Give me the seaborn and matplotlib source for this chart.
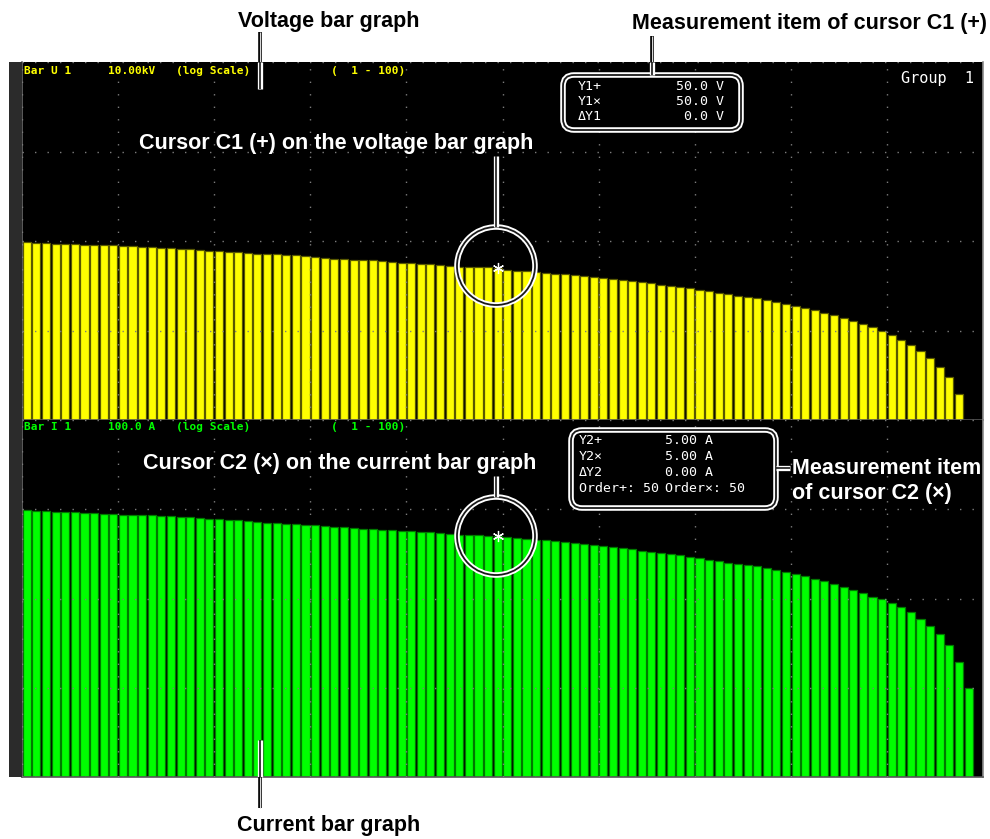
import numpy as np
import matplotlib
matplotlib.use("Agg")
import matplotlib.pyplot as plt
import seaborn as sns
from matplotlib.patches import Circle, FancyBboxPatch, Rectangle
from matplotlib.ticker import NullLocator

# ---------------- data (harmonic orders 1..100) ----------------
orders = list(range(1, 101))

voltage_v = [97.5, 95.0, 95.0, 93.3, 93.3, 93.3, 91.0, 91.0, 89.5, 89.5,
             87.3, 87.3, 85.7, 85.7, 83.5, 83.5, 81.4, 81.4, 79.3, 77.3,
             77.3, 75.3, 75.3, 73.4, 72.1, 71.0, 71.0, 69.2, 69.2, 67.4,
             66.2, 65.0, 63.4, 63.4, 61.8, 60.8, 60.8, 59.3, 58.2, 56.8,
             56.8, 55.7, 54.9, 53.9, 52.6, 51.6, 51.6, 51.0, 50.6, 50.0,
             47.8, 46.5, 46.5, 45.4, 44.3, 43.1, 42.5, 41.4, 40.4, 39.3,
             38.3, 37.3, 36.4, 35.5, 34.6, 33.7, 32.2, 31.4, 30.6, 29.9,
             28.4, 27.6, 26.4, 25.6, 24.5, 23.9, 22.9, 21.7, 20.7, 19.6,
             18.6, 17.8, 16.8, 15.7, 14.9, 13.8, 12.9, 11.9, 10.9, 9.8,
             8.8, 7.8, 6.9, 5.9, 4.9, 3.9, 3.0, 1.95, 0.98, 0.6]

current_a = [9.75, 9.50, 9.50, 9.33, 9.33, 9.33, 9.10, 9.10, 8.95, 8.95,
             8.73, 8.73, 8.57, 8.57, 8.35, 8.35, 8.14, 8.14, 7.93, 7.73,
             7.73, 7.53, 7.53, 7.34, 7.21, 7.10, 7.10, 6.92, 6.92, 6.74,
             6.62, 6.50, 6.34, 6.34, 6.18, 6.08, 6.08, 5.93, 5.82, 5.68,
             5.68, 5.57, 5.49, 5.39, 5.26, 5.16, 5.16, 5.10, 5.06, 5.00,
             4.85, 4.73, 4.61, 4.49, 4.49, 4.37, 4.26, 4.15, 4.05, 3.94,
             3.87, 3.77, 3.68, 3.59, 3.41, 3.32, 3.23, 3.15, 3.07, 2.94,
             2.86, 2.72, 2.65, 2.52, 2.45, 2.36, 2.29, 2.18, 2.07, 1.98,
             1.88, 1.79, 1.67, 1.57, 1.45, 1.35, 1.24, 1.15, 1.05, 0.975,
             0.89, 0.796, 0.70, 0.585, 0.492, 0.397, 0.301, 0.196, 0.099, 0.005]

cursor_order = 50
v_range = (1.0, 1.0e4)      # 10.00 kV full scale, 4 decades
i_range = (0.01, 100.0)     # 100.0 A full scale, 4 decades

v_header = ["Bar U 1", "10.00kV", "(log Scale)", "(  1 - 100)"]
i_header = ["Bar I 1", "100.0 A", "(log Scale)", "(  1 - 100)"]
box1_labels = ["Y1+", "Y1\u00d7", "\u0394Y1"]
box1_values = ["50.0 V", "50.0 V", "0.0 V"]
box2_labels = ["Y2+", "Y2\u00d7", "\u0394Y2"]
box2_values = ["5.00 A", "5.00 A", "0.00 A"]

# ---------------- figure ----------------
sns.set_theme(style="dark")
plt.rcParams['font.family'] = ['DejaVu Sans']

W, H = 990, 839
fig = plt.figure(figsize=(9.9, 8.39), dpi=100, facecolor='white')


def frame(x0, y0, x1, y1):
    return [x0 / W, 1 - y1 / H, (x1 - x0) / W, (y1 - y0) / H]


ax_v = fig.add_axes(frame(22, 62, 983, 420))
ax_i = fig.add_axes(frame(22, 420, 983, 777))

MONO = ['DejaVu Sans Mono', 'DejaVu Sans']


def bar_panel(ax, vals, color, edge, yr):
    sns.barplot(x=orders, y=vals, ax=ax, color=color, saturation=1,
                width=0.84, edgecolor=edge, linewidth=0.9, errorbar=None)
    ax.set_yscale('log')
    ax.set_ylim(*yr)
    ax.set_xlim(-0.5, len(orders) - 0.5)
    ax.set_facecolor('black')
    ax.set_xticks(np.arange(-0.5, len(orders), 10))
    lo, hi = np.log10(yr[0]), np.log10(yr[1])
    ax.set_yticks(10.0 ** np.arange(lo, hi + 0.5, 1))
    ax.yaxis.set_minor_locator(NullLocator())
    ax.xaxis.set_minor_locator(NullLocator())
    ax.tick_params(length=0, labelbottom=False, labelleft=False)
    ax.set_xlabel('')
    ax.set_ylabel('')
    ax.grid(True, color='#7c7c7c', linestyle=(0, (1, 8)), linewidth=1.0)
    ax.set_axisbelow(False)
    ax.spines['top'].set_visible(False)
    ax.spines['left'].set_color('#6a6a6a')
    ax.spines['right'].set_color('#8a8a8a')
    ax.spines['bottom'].set_color('#555555')
    for s in ['left', 'right', 'bottom']:
        ax.spines[s].set_linewidth(1.2)
    # cursor marker
    k = orders.index(cursor_order)
    ax.plot([k], [vals[k]], marker=(6, 2, 0), color='white', ms=8, mew=0.9,
            linestyle='none', zorder=10)


bar_panel(ax_v, voltage_v, '#ffff00', '#5a5a00', v_range)
bar_panel(ax_i, current_a, '#00ff00', '#007a00', i_range)

# ---------------- overlay in pixel coordinates ----------------
ov = fig.add_axes([0, 0, 1, 1])
ov.set_xlim(0, W)
ov.set_ylim(H, 0)
ov.axis('off')
ov.patch.set_alpha(0)

ov.add_patch(Rectangle((9, 62), 13, 715, color='#2b2b2b', lw=0))

# instrument header texts
hx = [24, 108, 176, 331]
for x, t in zip(hx, v_header):
    ov.text(x, 71, t, color='#ffff00', family=MONO, fontsize=8,
            va='center', ha='left', fontweight='bold')
for x, t in zip(hx, i_header):
    ov.text(x, 427, t, color='#00ff00', family=MONO, fontsize=8,
            va='center', ha='left', fontweight='bold')
ov.text(901, 78, "Group  1", color='white', family=MONO, fontsize=11,
        va='center', ha='left')


def double_box(x, y, w, h):
    ov.add_patch(FancyBboxPatch((x, y), w, h,
                                boxstyle='round,pad=0,rounding_size=11',
                                fc='black', ec='white', lw=4, zorder=5))
    ov.add_patch(FancyBboxPatch((x, y), w, h,
                                boxstyle='round,pad=0,rounding_size=11',
                                fc='none', ec='#1a1a1a', lw=1.3, zorder=6))


def double_circle(cx, cy, r):
    ov.add_patch(Circle((cx, cy), r, fill=False, ec='white', lw=4, zorder=7))
    ov.add_patch(Circle((cx, cy), r, fill=False, ec='#1a1a1a', lw=1.3, zorder=8))


def line_on_white(xs, ys):
    ov.plot(xs, ys, color='black', lw=2.6, solid_capstyle='butt', zorder=9)
    ov.plot(xs, ys, color='#d8d8d8', lw=0.8, solid_capstyle='butt', zorder=9)


def line_on_black(xs, ys):
    ov.plot(xs, ys, color='white', lw=3.8, solid_capstyle='butt', zorder=9)
    ov.plot(xs, ys, color='#1a1a1a', lw=1.2, solid_capstyle='butt', zorder=9)


# measurement box C1
double_box(563, 75, 178, 55)
for j, (lab, val) in enumerate(zip(box1_labels, box1_values)):
    yy = 87 + j * 14.5
    ov.text(578, yy, lab, color='white', family=MONO, fontsize=9.5,
            va='center', ha='left', zorder=10)
    ov.text(724, yy, val, color='white', family=MONO, fontsize=9.5,
            va='center', ha='right', zorder=10)

# measurement box C2
double_box(571, 430, 205, 78)
for j, (lab, val) in enumerate(zip(box2_labels, box2_values)):
    yy = 441 + j * 15.5
    ov.text(579, yy, lab, color='white', family=MONO, fontsize=9.5,
            va='center', ha='left', zorder=10)
    ov.text(665, yy, val, color='white', family=MONO, fontsize=9.5,
            va='center', ha='left', zorder=10)
ov.text(579, 489, "Order+: %d" % cursor_order, color='white', family=MONO,
        fontsize=9.5, va='center', ha='left', zorder=10)
ov.text(665, 489, "Order\u00d7: %d" % cursor_order, color='white', family=MONO,
        fontsize=9.5, va='center', ha='left', zorder=10)

# cursor circles
double_circle(496, 266, 39)
double_circle(496, 536, 39)

# leader lines
line_on_white([260, 260], [32, 62])
line_on_black([260, 260], [62, 89])
line_on_white([652, 652], [36, 62])
line_on_black([652, 652], [62, 75])
line_on_black([496, 496], [156, 227])
line_on_black([496, 496], [476, 497])
line_on_black([776, 790], [468, 468])
line_on_black([260, 260], [740, 777])
line_on_white([260, 260], [777, 808])

# annotation texts
BOLD = dict(family=['Liberation Sans', 'DejaVu Sans'], fontweight='bold',
            fontsize=15.5)
ov.text(329, 21, "Voltage bar graph", color='black', ha='center',
        va='center', **BOLD)
ov.text(809, 24, "Measurement item of cursor C1 (+)", color='black',
        ha='center', va='center', **BOLD)
ov.text(336, 143, "Cursor C1 (+) on the voltage bar graph", color='white',
        ha='center', va='center', zorder=10, **BOLD)
ov.text(340, 463, "Cursor C2 (\u00d7) on the current bar graph", color='white',
        ha='center', va='center', zorder=10, **BOLD)
ov.text(792, 468, "Measurement item", color='white', ha='left',
        va='center', zorder=10, **BOLD)
ov.text(792, 494, "of cursor C2 (\u00d7)", color='white', ha='left',
        va='center', zorder=10, **BOLD)
ov.text(329, 826, "Current bar graph", color='black', ha='center',
        va='center', **BOLD)

fig.savefig('out.png', dpi=100, facecolor='white')
